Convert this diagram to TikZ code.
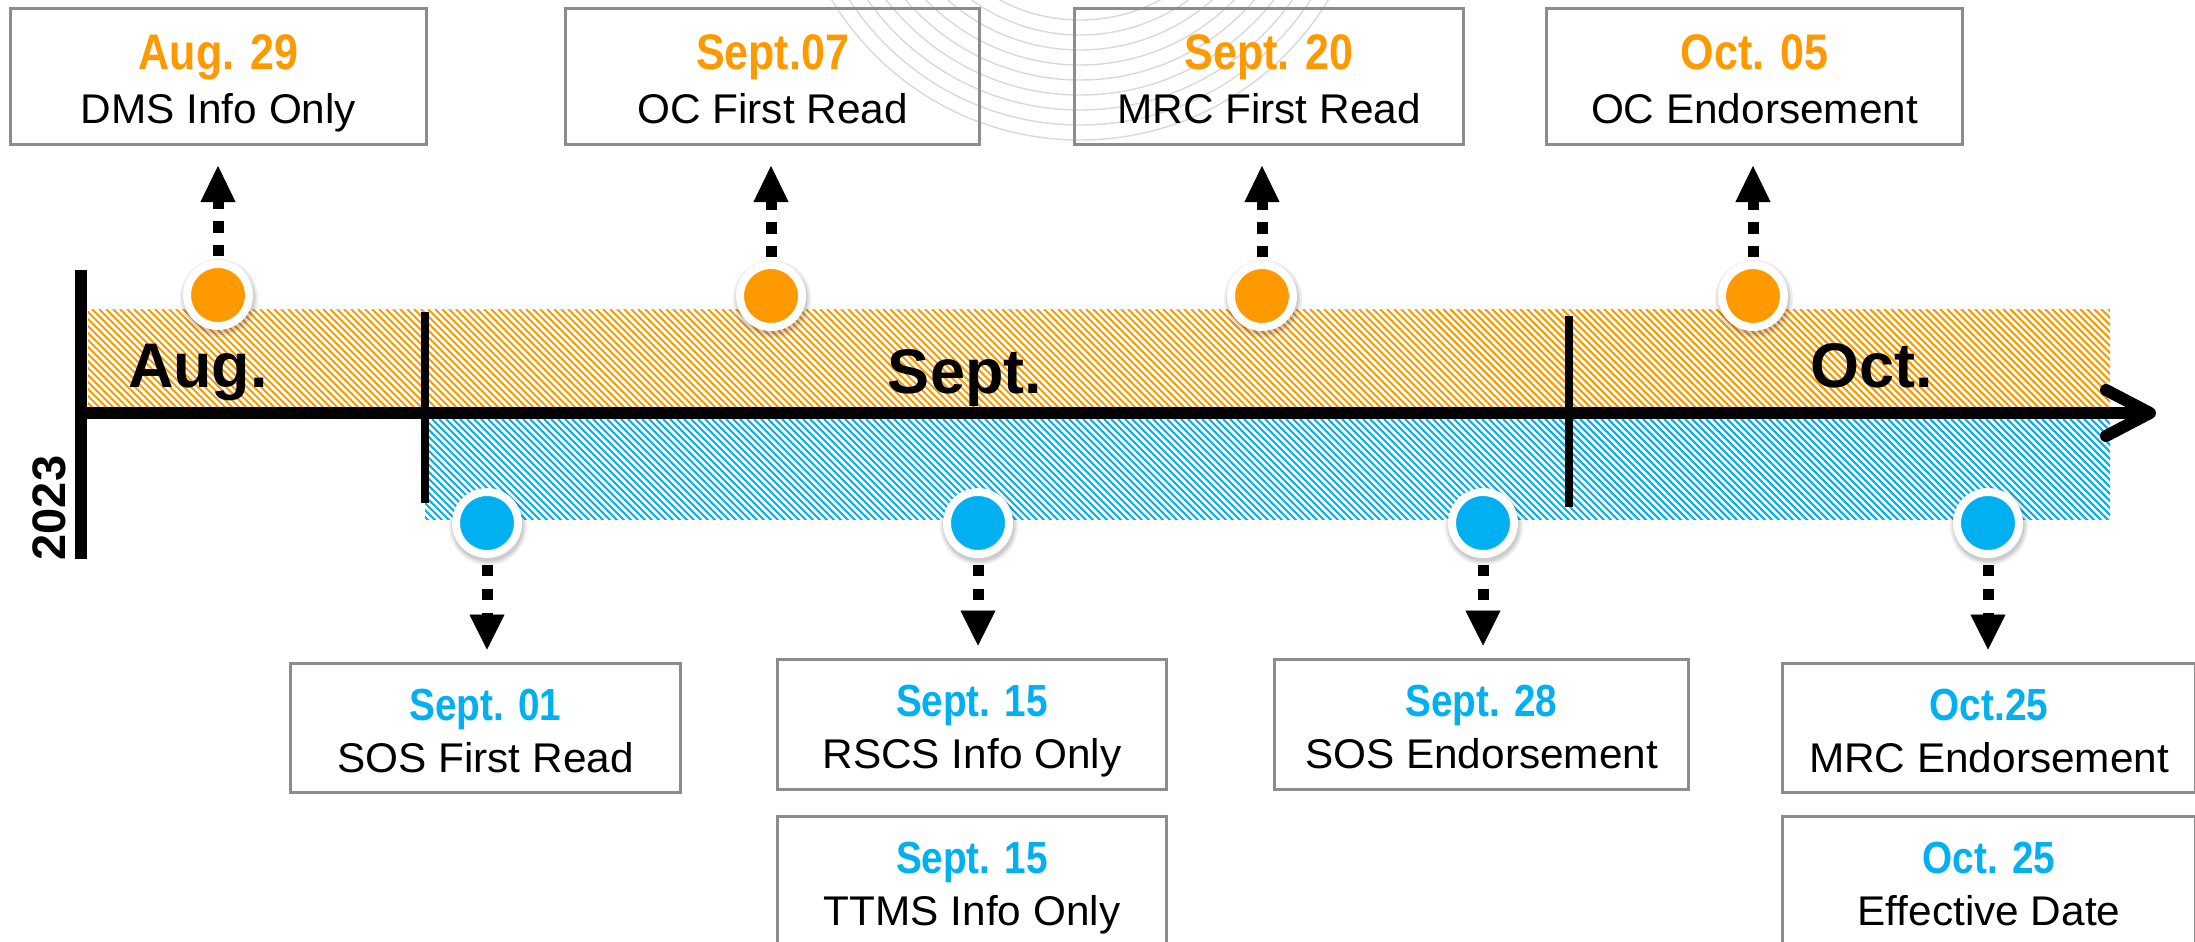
\documentclass[tikz,border=0pt]{standalone}
\usepackage{fontspec}
\setmainfont{Liberation Sans}
\newfontfamily\datefont{Liberation Sans Bold}[FakeStretch=0.86]
\newfontfamily\descfont{Liberation Sans}[FakeStretch=1.02]
\usetikzlibrary{arrows.meta}
\definecolor{evorange}{HTML}{FF9900}
\definecolor{evblue}{HTML}{00B0F0}
\definecolor{boxgray}{HTML}{8C8C8C}
\newcommand{\dateoff}{62.5}
\newcommand{\descoff}{116.5}
\newcommand{\datesize}{50}
\newcommand{\EvBox}[8]{%
  \node[evbox, minimum width=#4pt, minimum height=#5pt] (#1) at (#2,#3) {};
  \node[datetxt, text=#6] (#1d) at ([yshift=-\dateoff pt]#1.north) {#7};
  \node[desctxt] (#1t) at ([yshift=-\descoff pt]#1.north) {#8};
}
\newcommand{\EvDot}[4]{%
  \foreach \rr in {39,37,35.5} \fill[black,opacity=0.07] (#2+1,#3+3) circle[radius=\rr];
  \node[evdot, fill=#4] (#1) at (#2,#3) {};
}
\begin{document}
\begin{tikzpicture}[x=1pt,y=-1pt,
  evbox/.style={draw=boxgray, line width=3pt, rectangle, inner sep=0pt, anchor=north west},
  datetxt/.style={font=\datefont\fontsize{\datesize}{58}\selectfont, anchor=base, inner sep=0pt},
  desctxt/.style={font=\descfont\fontsize{41.5}{48}\selectfont, anchor=base, inner sep=0pt, text=black},
  monthtxt/.style={font=\bfseries\fontsize{63}{70}\selectfont, anchor=base, inner sep=0pt, text=black},
  evdot/.style={circle, draw=white, line width=8pt, minimum size=62pt, inner sep=0pt},
  uparrow/.style={line width=11pt, dash pattern=on 11.5pt off 12pt, -{Triangle[length=36pt,width=35pt,line width=0.5pt]}},
  downarrow/.style={line width=11pt, dash pattern=on 11pt off 13pt, -{Triangle[length=35pt,width=35pt,line width=0.5pt]}},
  hatchO/.style={evorange, line width=2.1pt},
  hatchB/.style={evblue, line width=2.1pt},
  wm/.style={black!15, line width=1.4pt},
  axisline/.style={line width=12pt, black}
]
\useasboundingbox (0,0) rectangle (2195,942);
% faint watermark arcs
\begin{scope}
  \clip (0,0) rectangle (2195,942);
  \foreach \r in {170,185,200,215,230,245,260,275,290}
    \draw[wm] (1080,-150) circle[radius=\r];
\end{scope}
% hatched bands
\begin{scope}
  \clip (88,309) rectangle (2110,407);
  \foreach \i in {0,...,305}
    \draw[hatchO] ({-20+\i*7},309) -- ++(100,100);
\end{scope}
\begin{scope}
  \clip (425,419) rectangle (2110,519);
  \foreach \i in {0,...,255}
    \draw[hatchB] ({320+\i*7},419) -- ++(102,102);
\end{scope}
% axis
\coordinate (axstart) at (75,413);
\coordinate (axend) at (2146,413);
\draw[axisline] (axstart) -- (axend);
\draw[axisline, line cap=round, line join=round] (2106,390) -- (2150,413) -- (2106,436);
\draw[line width=12pt] (81,270) -- (81,559);
\draw[line width=8pt] (425,312) -- (425,503);
\draw[line width=8pt] (1569,316) -- (1569,507);
% month labels
\node[monthtxt] (maug) at (198,387) {Aug.};
\node[monthtxt] (msep) at (965,393) {Sept.};
\node[monthtxt] (moct) at (1872,387) {Oct.};
\node[font=\bfseries\fontsize{47}{52}\selectfont, rotate=90, inner sep=0pt] (year) at (49,508) {2023};
% top boxes
\renewcommand{\dateoff}{62.5}\renewcommand{\descoff}{116.5}\renewcommand{\datesize}{50}
\EvBox{b1}{9}{7}{416}{136}{evorange}{Aug. 29}{DMS Info Only}
\EvBox{b2}{564}{7}{414}{136}{evorange}{Sept.07}{OC First Read}
\EvBox{b3}{1073}{7}{389}{136}{evorange}{Sept. 20}{MRC First Read}
\EvBox{b4}{1545}{7}{416}{136}{evorange}{Oct. 05}{OC Endorsement}
% bottom boxes
\renewcommand{\dateoff}{58.5}\renewcommand{\descoff}{110.5}\renewcommand{\datesize}{45}
\EvBox{c1}{289}{662}{390}{129}{evblue}{Sept. 01}{SOS First Read}
\EvBox{c2}{776}{658}{389}{130}{evblue}{Sept. 15}{RSCS Info Only}
\EvBox{c3}{776}{815}{389}{130}{evblue}{Sept. 15}{TTMS Info Only}
\EvBox{c4}{1273}{658}{414}{130}{evblue}{Sept. 28}{SOS Endorsement}
\EvBox{c5}{1781}{662}{413}{129}{evblue}{Oct.25}{MRC Endorsement}
\EvBox{c6}{1781}{815}{413}{130}{evblue}{Oct. 25}{Effective Date}
% dots
\EvDot{o1}{218}{295}{evorange}
\EvDot{o2}{771}{296}{evorange}
\EvDot{o3}{1262}{296}{evorange}
\EvDot{o4}{1753}{296}{evorange}
\EvDot{p1}{487}{523}{evblue}
\EvDot{p2}{978}{523}{evblue}
\EvDot{p3}{1483}{523}{evblue}
\EvDot{p4}{1988}{523}{evblue}
% arrows
\foreach \d/\b in {o1/b1,o2/b2,o3/b3,o4/b4}
  \draw[uparrow] ([yshift=4pt]\d.north) -- ([yshift=-20pt]\d |- \b.south);
\foreach \d/\b in {p1/c1,p2/c2,p3/c4,p4/c5}
  \draw[downarrow] ([yshift=-7pt]\d.south) -- ([yshift=12.5pt]\d |- \b.north);
\end{tikzpicture}
\end{document}
